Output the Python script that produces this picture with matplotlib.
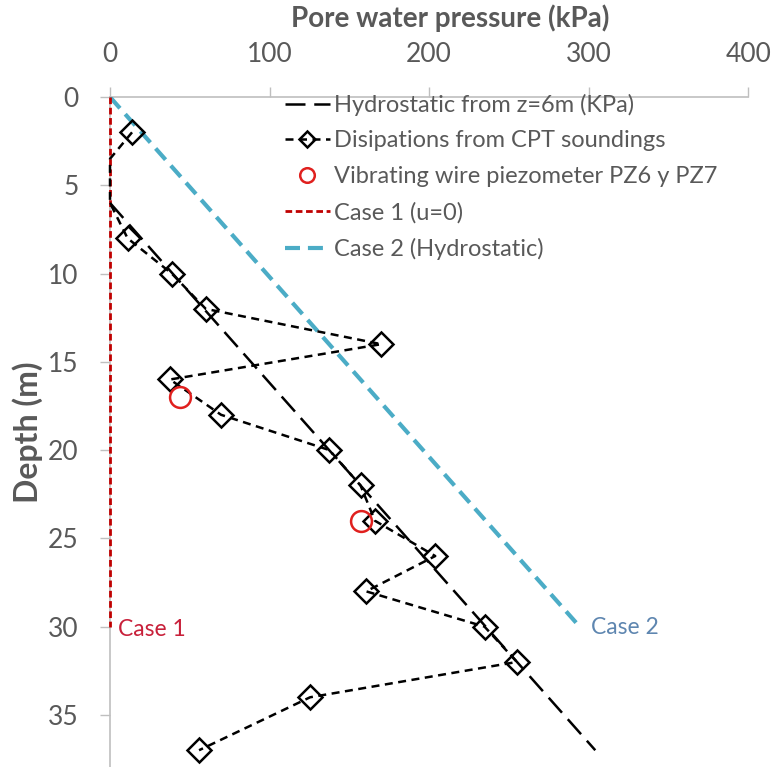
import matplotlib
matplotlib.use("Agg")
import matplotlib.pyplot as plt

plt.rcParams['font.family'] = ['Lato', 'DejaVu Sans']

# Hydrostatic from z=6 m
hydro6_depth = [6, 37]
hydro6_u = [0, 304.1]

# Dissipations from CPT soundings (first points at u=0 have no marker)
cpt_depth = [2, 3.5, 6, 8, 10, 12, 14, 16, 18, 20, 22, 24, 26, 28, 30, 32, 34, 37]
cpt_u = [13.8, 0, 0, 11, 38.7, 60, 170, 37.6, 69.6, 137.5, 157, 166, 203.8, 160.5, 234.7, 255, 125.4, 55.8]
cpt_marked = [0] + list(range(3, 18))

# Vibrating wire piezometers
pz_depth = [17, 24]
pz_u = [44, 157]

# Case 1 (u=0) and Case 2 (hydrostatic)
case1_depth = [0, 30]
case1_u = [0, 0]
case2_depth = [0, 30]
case2_u = [0, 294.3]

x_ticks = [0, 100, 200, 300, 400]
y_ticks = [0, 5, 10, 15, 20, 25, 30, 35]

gray = '#595959'
W, H = 772, 767
fig = plt.figure(figsize=(W / 100, H / 100), dpi=100)
ax = fig.add_axes([0.1425, 0.0, 0.8268, 0.8735])

ax.plot(hydro6_u, hydro6_depth, color='black', lw=1.8, dashes=(8, 3.5),
        label='Hydrostatic from z=6m (KPa)', zorder=3, clip_on=False)
ax.plot(cpt_u, cpt_depth, color='black', lw=1.8, dashes=(3.2, 2.2),
        marker='D', markersize=12, markerfacecolor='none', markeredgecolor='black',
        markeredgewidth=1.8, markevery=cpt_marked,
        label='Disipations from CPT soundings', zorder=4, clip_on=False)
ax.plot(pz_u, pz_depth, linestyle='none', marker='o', markersize=15,
        markerfacecolor='none', markeredgecolor='#E0201E', markeredgewidth=1.8,
        label='Vibrating wire piezometer PZ6 y PZ7', zorder=5)
ax.plot(case1_u, case1_depth, color='#C00000', lw=2.0, dashes=(2.4, 1.3),
        label='Case 1 (u=0)', zorder=2.6, clip_on=False)
ax.plot(case2_u, case2_depth, color='#4BACC6', lw=3.0, dashes=(3.6, 1.9),
        label='Case 2 (Hydrostatic)', zorder=2)

ax.text(case1_u[-1] + 5, case1_depth[-1] + 0.15, 'Case 1', color='#C8203A', fontsize=16.5,
        ha='left', va='center')
ax.text(case2_u[-1] + 7, case2_depth[-1] + 0.05, 'Case 2', color='#5E86B0', fontsize=16.5,
        ha='left', va='center')

ax.set_xlim(0, 400)
ax.set_ylim(37.95, 0)
ax.xaxis.tick_top()
ax.set_xticks(x_ticks)
ax.set_yticks(y_ticks)
fig.text(450 / W, 1 - 18 / H, 'Pore water pressure (kPa)', fontsize=20,
         fontweight='bold', color=gray, ha='center', va='center')
fig.text(28 / W, 1 - 432 / H, 'Depth (m)', fontsize=23, fontweight='bold',
         color=gray, ha='center', va='center', rotation=90)
ax.tick_params(axis='both', colors='#BFBFBF', labelcolor=gray, labelsize=19,
               direction='out', length=7.5, width=1)
ax.tick_params(axis='x', pad=14)
ax.tick_params(axis='y', pad=15)
for s in ['right', 'bottom']:
    ax.spines[s].set_visible(False)
for s in ['top', 'left']:
    ax.spines[s].set_color('#BFBFBF')
    ax.spines[s].set_linewidth(1.2)
    ax.spines[s].set_zorder(1)

leg = ax.legend(loc='upper left', bbox_to_anchor=(0.274, 1.005), frameon=False,
                fontsize=17, handlelength=1.9, handletextpad=0.17, labelspacing=0.62,
                borderpad=0, borderaxespad=0, markerscale=0.7)
for t in leg.get_texts():
    t.set_color(gray)

fig.savefig('out.png', dpi=100)
